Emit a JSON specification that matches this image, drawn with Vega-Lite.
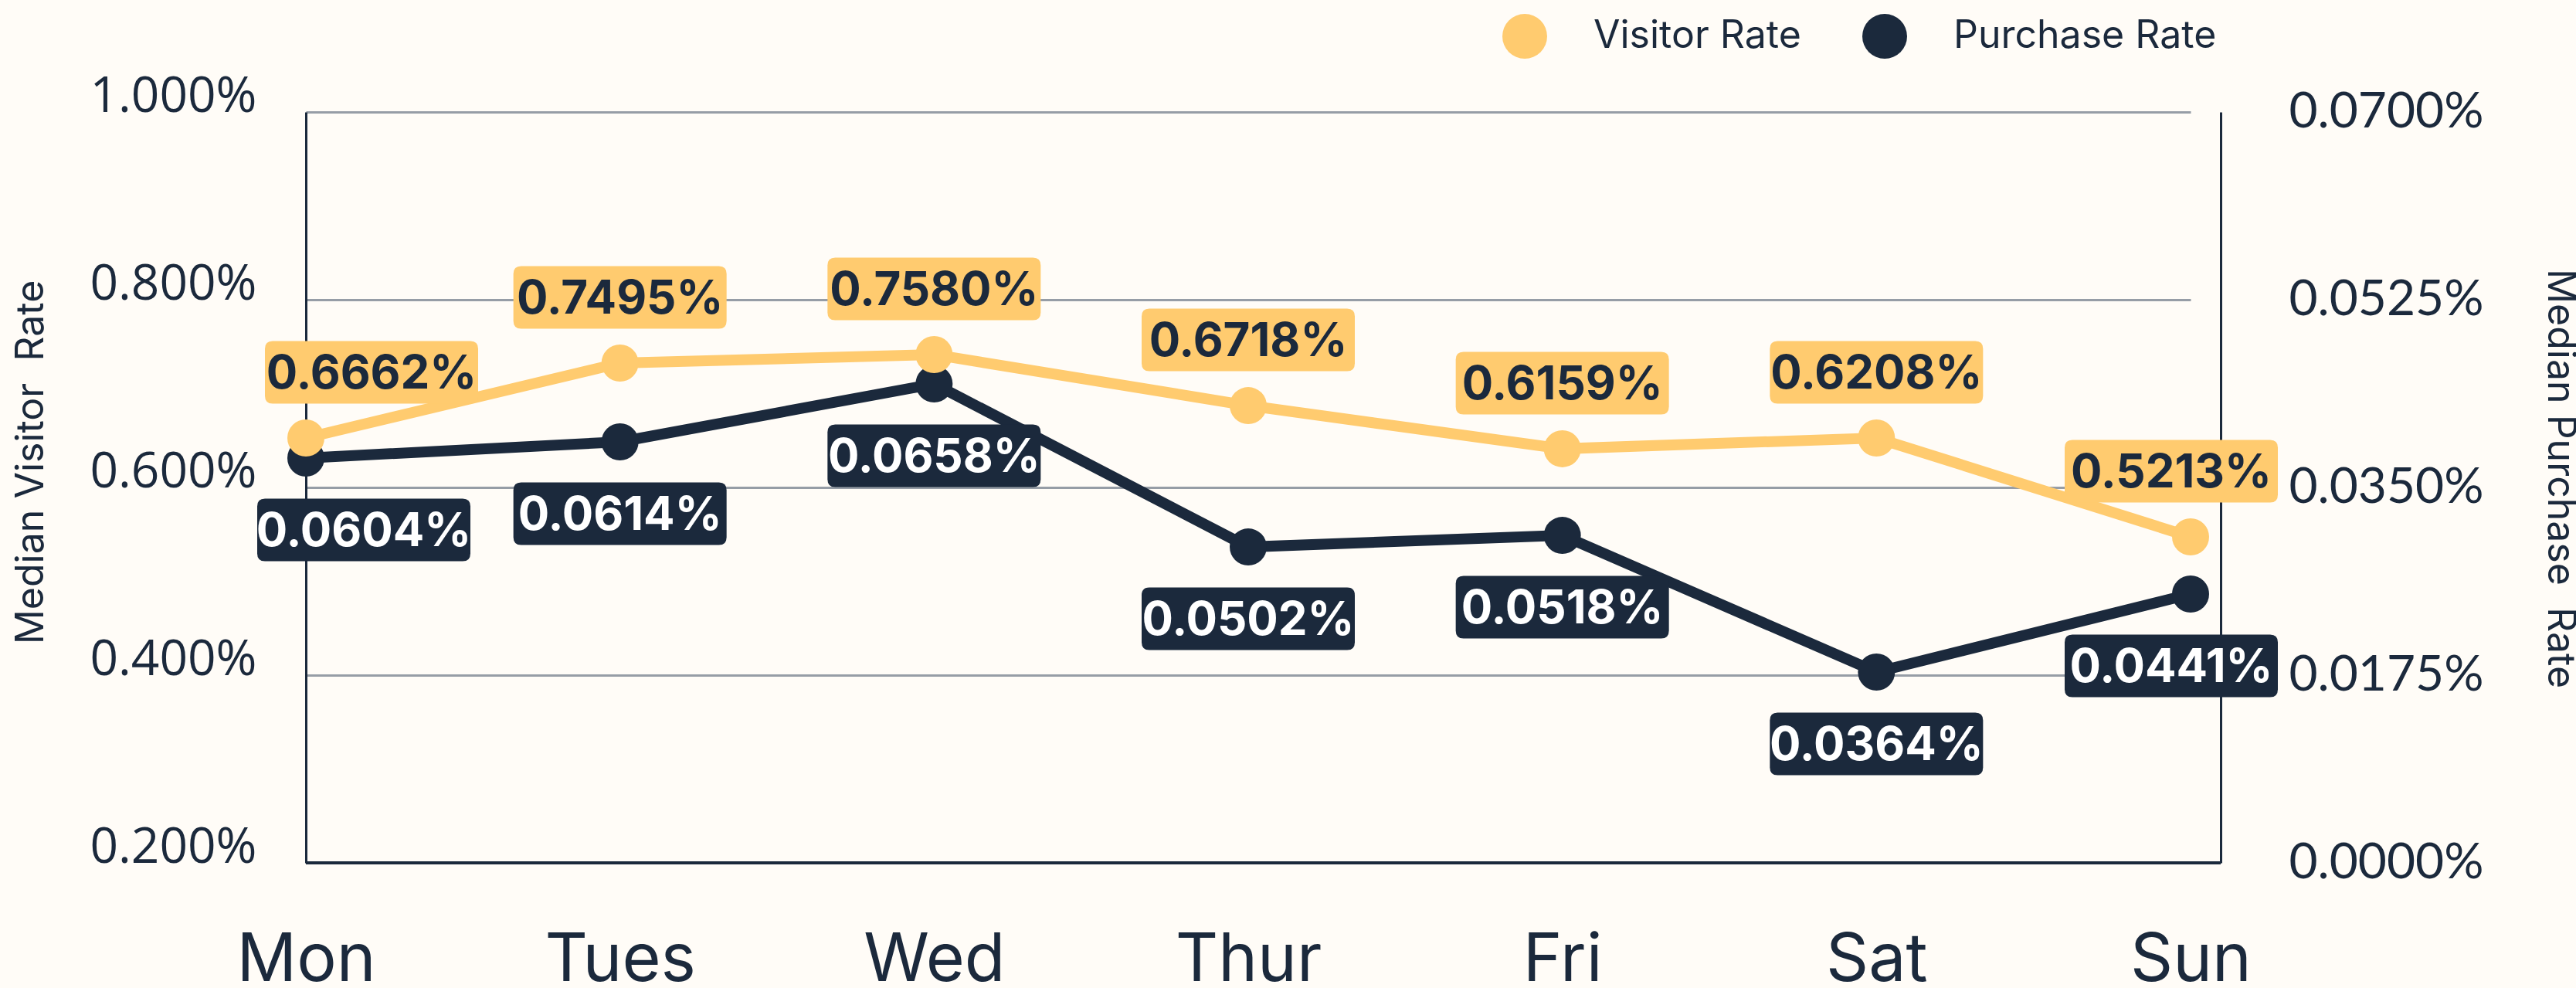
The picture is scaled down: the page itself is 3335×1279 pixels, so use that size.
{
  "$schema": "https://vega.github.io/schema/vega-lite/v6.json",
  "width": 2479,
  "height": 972,
  "autosize": {"type": "none"},
  "padding": {"left": 396, "top": 145, "right": 460, "bottom": 162},
  "background": "#FFFCF7",
  "config": {"view": {"stroke": null}, "font": "Inter"},
  "data": {
    "values": [
      {"day": "Mon", "visitor": 0.6527, "purchase": 0.03774, "visitor_label": "0.6662%", "purchase_label": "0.0604%"},
      {"day": "Tues", "visitor": 0.7325, "purchase": 0.03925, "visitor_label": "0.7495%", "purchase_label": "0.0614%"},
      {"day": "Wed", "visitor": 0.7416, "purchase": 0.04465, "visitor_label": "0.7580%", "purchase_label": "0.0658%"},
      {"day": "Thur", "visitor": 0.6872, "purchase": 0.02945, "visitor_label": "0.6718%", "purchase_label": "0.0502%"},
      {"day": "Fri", "visitor": 0.6412, "purchase": 0.03053, "visitor_label": "0.6159%", "purchase_label": "0.0518%"},
      {"day": "Sat", "visitor": 0.6527, "purchase": 0.01779, "visitor_label": "0.6208%", "purchase_label": "0.0364%"},
      {"day": "Sun", "visitor": 0.5473, "purchase": 0.02506, "visitor_label": "0.5213%", "purchase_label": "0.0441%"}
    ]
  },
  "layer": [
    {
      "encoding": {
        "x": {
          "field": "day", "type": "ordinal",
          "sort": ["Mon", "Tues", "Wed", "Thur", "Fri", "Sat", "Sun"],
          "scale": {"type": "point", "range": [0, 2440], "padding": 0},
          "axis": {"title": null, "ticks": false, "domain": false, "grid": false, "labelAngle": 0, "labelFont": "Inter", "labelFontSize": 86, "labelColor": "#1B293C", "labelPadding": 84, "labelLimit": 1000}
        },
        "y": {
          "field": "purchase", "type": "quantitative",
          "scale": {"domain": [0, 0.07], "nice": false, "zero": false},
          "axis": {
            "orient": "right", "values": [0, 0.0175, 0.035, 0.0525, 0.07],
            "labelExpr": "format(datum.value, '.4f') + '%'",
            "grid": false, "ticks": false, "domainColor": "#1B293C", "domainWidth": 3,
            "labelFont": "Lato", "labelFontSize": 64, "labelColor": "#1B293C", "labelPadding": 88, "labelLimit": 1000,
            "title": "Median Purchase\u00a0 Rate", "titleFont": "Inter", "titleFontSize": 50, "titleFontWeight": "normal", "titleColor": "#1B293C",
            "titleAngle": 90, "titleX": 438, "titleY": 474, "titleAlign": "center", "titleBaseline": "middle"
          }
        }
      },
      "layer": [
        {"mark": {"type": "line", "color": "#1B293C", "strokeWidth": 14}},
        {
          "mark": {"type": "point", "filled": true, "opacity": 1, "size": 2304, "shape": "circle"},
          "encoding": {
            "color": {
              "datum": "Purchase Rate",
              "scale": {"domain": ["Visitor Rate", "Purchase Rate"], "range": ["#FFCB6F", "#1B293C"]},
              "legend": {"title": null, "orient": "none", "legendX": 1549, "legendY": -127, "direction": "horizontal", "symbolType": "circle", "symbolSize": 3364, "symbolStrokeWidth": 0, "labelFont": "Inter", "labelFontSize": 50, "labelColor": "#1B293C", "labelOffset": 60, "columnPadding": 79, "padding": 0, "labelLimit": 1000}
            }
          }
        },
        {
          "mark": {"type": "point", "filled": true, "opacity": 1, "color": "#1B293C", "strokeWidth": 0, "size": 76176,
            "shape": "M-0.9275,-0.2935H0.9275Q1,-0.2935 1,-0.221V0.221Q1,0.2935 0.9275,0.2935H-0.9275Q-1,0.2935 -1,0.221V-0.221Q-1,-0.2935 -0.9275,-0.2935Z",
            "yOffset": 93, "xOffset": {"expr": "datum.day === 'Mon' ? 75 : datum.day === 'Sun' ? -25 : 0"}}
        },
        {
          "mark": {"type": "text", "font": "Inter", "fontWeight": "bold", "fontSize": 60, "color": "#FFFFFF", "align": "center", "baseline": "middle",
            "yOffset": 96, "xOffset": {"expr": "datum.day === 'Mon' ? 75 : datum.day === 'Sun' ? -25 : 0"}},
          "encoding": {"text": {"field": "purchase_label"}}
        }
      ]
    },
    {
      "encoding": {
        "x": {
          "field": "day", "type": "ordinal",
          "sort": ["Mon", "Tues", "Wed", "Thur", "Fri", "Sat", "Sun"],
          "scale": {"type": "point", "range": [0, 2440], "padding": 0},
          "axis": {"title": null, "ticks": false, "domain": false, "grid": false, "labelAngle": 0, "labelFont": "Inter", "labelFontSize": 86, "labelColor": "#1B293C", "labelPadding": 84, "labelLimit": 1000}
        },
        "y": {
          "field": "visitor", "type": "quantitative",
          "scale": {"domain": [0.2, 1.0], "nice": false, "zero": false},
          "axis": {
            "orient": "left", "values": [0.2, 0.4, 0.6, 0.8, 1.0],
            "labelExpr": "format(datum.value, '.3f') + '%'",
            "grid": true, "gridColor": "#969DA6", "gridWidth": 3, "ticks": false, "domainColor": "#1B293C", "domainWidth": 3,
            "labelFont": "Open Sans", "labelFontSize": 64, "labelColor": "#1B293C", "labelPadding": 64, "labelOffset": -20, "labelLimit": 1000,
            "title": "Median Visitor\u00a0 Rate", "titleFont": "Inter", "titleFontSize": 50, "titleFontWeight": "normal", "titleColor": "#1B293C",
            "titleAngle": -90, "titleX": -356, "titleY": 453, "titleAlign": "center", "titleBaseline": "middle"
          }
        }
      },
      "layer": [
        {"mark": {"type": "line", "color": "#FFCB6F", "strokeWidth": 14}},
        {
          "mark": {"type": "point", "filled": true, "opacity": 1, "size": 2304, "shape": "circle"},
          "encoding": {
            "color": {
              "datum": "Visitor Rate",
              "scale": {"domain": ["Visitor Rate", "Purchase Rate"], "range": ["#FFCB6F", "#1B293C"]},
              "legend": {"title": null, "orient": "none", "legendX": 1549, "legendY": -127, "direction": "horizontal", "symbolType": "circle", "symbolSize": 3364, "symbolStrokeWidth": 0, "labelFont": "Inter", "labelFontSize": 50, "labelColor": "#1B293C", "labelOffset": 60, "columnPadding": 79, "padding": 0, "labelLimit": 1000}
            }
          }
        },
        {
          "mark": {"type": "point", "filled": true, "opacity": 1, "color": "#FFCB6F", "strokeWidth": 0, "size": 76176,
            "shape": "M-0.9275,-0.2935H0.9275Q1,-0.2935 1,-0.221V0.221Q1,0.2935 0.9275,0.2935H-0.9275Q-1,0.2935 -1,0.221V-0.221Q-1,-0.2935 -0.9275,-0.2935Z",
            "yOffset": -85, "xOffset": {"expr": "datum.day === 'Mon' ? 85 : datum.day === 'Sun' ? -25 : 0"}}
        },
        {
          "mark": {"type": "text", "font": "Inter", "fontWeight": "bold", "fontSize": 60, "color": "#1B293C", "align": "center", "baseline": "middle",
            "yOffset": -82, "xOffset": {"expr": "datum.day === 'Mon' ? 85 : datum.day === 'Sun' ? -25 : 0"}},
          "encoding": {"text": {"field": "visitor_label"}}
        }
      ]
    },
    {
      "mark": {"type": "rule", "color": "#1B293C", "strokeWidth": 4},
      "encoding": {
        "y": {"datum": 0.2, "type": "quantitative", "scale": {"domain": [0.2, 1.0], "nice": false, "zero": false}, "axis": null}
      }
    }
  ],
  "resolve": {"scale": {"y": "independent"}}
}
